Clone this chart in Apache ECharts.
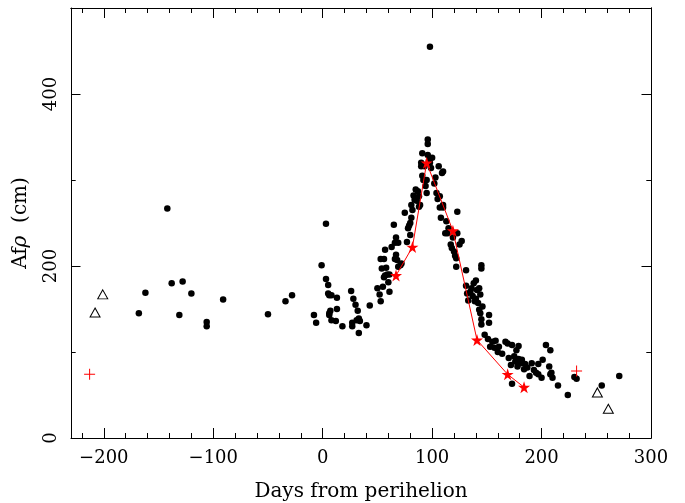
<!DOCTYPE html>
<html><head><meta charset="utf-8">
<script src="https://cdn.jsdelivr.net/npm/echarts@6/dist/echarts.min.js"></script>
<style>html,body{margin:0;padding:0;background:#fff}#c{width:685px;height:503px}</style>
</head><body><div id="c"></div>
<script>
// Black dots: days from perihelion and Afrho (cm)
const dotDays = [-168,-162,-142,-138,-131,-128,-120,-106,-106,-91,-50,-34,-28,
 -8,-6,-1,3,3,5,5,6,8,6,6,7,8,12,13,13,18,26,28,27,27,30,31,32,33,34,33,40,43,
 50,52,53,53,54,55,56,57,56,57,59,61,61,60,65,67,66,67,66,68,69,71,72,69,77,78,79,80,81,80,82,81,83,84,85,87,88,88,89,
 90,91,91,90,93,94,95,95,96,96,96,98,98,99,97,
 103,106,110,109,104,105,107,107,110,110,108,115,114,112,117,118,120,121,119,123,123,125,122,122,
 131,131,132,133,136,137,138,140,141,140,142,143,144,145,145,144,145,145,146,139,143,
 152,152,151,155,158,153,157,161,164,167,169,173,179,170,172,175,176,178,179,181,182,184,185,173,
 189,191,195,197,197,201,200,204,208,207,208,209,210,215,224,230,232,255,271,
 58,63,75,86,92,100,102,113,127,135,148,160,177,187,193];
const dotAfrho = [145,169,267,180,143,182,168,135,130,161,144,159,166,
 143,134,201,249,185,178,168,166,166,143,145,148,137,136,163,150,130,171,162,134,130,155,137,148,139,136,122,131,154,
 174,167,159,208,197,176,187,219,208,189,190,190,170,181,248,233,227,213,208,207,199,201,203,227,228,244,247,250,256,236,265,271,282,277,289,287,281,269,271,
 320,331,305,316,316,293,300,285,329,347,342,455,320,314,322,
 303,316,310,308,285,278,281,268,271,268,256,244,238,238,225,221,217,212,233,238,263,225,209,199,
 195,177,168,160,174,165,180,183,172,162,157,174,167,201,197,145,138,132,153,159,149,
 143,134,115,112,113,106,105,106,98,112,110,108,107,93,85,95,89,83,92,87,91,80,86,63,
 72,87,76,86,74,91,70,108,102,83,74,76,70,61,50,71,69,61,72,
 198,222,262,276,300,326,296,252,229,170,120,100,102,82,79];
// Red stars (connected)
const starDays = [67,82,95,119,141,169,184];
const starAfrho = [189,222,320,241,114,74,59];
// Open triangles
const triDays = [-208,-201,251,261];
const triAfrho = [146,167,53,34];
// Red crosses
const plusDays = [-213,232];
const plusAfrho = [74,78];
// Axis ticks
const xMajor = [-200,-100,0,100,200,300];
const xMinor = [-220,-200,-180,-160,-140,-120,-100,-80,-60,-40,-20,0,20,40,60,80,100,120,140,160,180,200,220,240,260,280,300];
const yMajor = [0,200,400];
const yMinor = [100,300,500];

const zip = (a,b)=>a.map((v,i)=>[v,b[i]]);
const FONT = 'DejaVu Serif';
const STAR = 'path://M0,-1L0.2245,-0.309L0.951,-0.309L0.363,0.118L0.588,0.809L0,0.382L-0.588,0.809L-0.363,0.118L-0.951,-0.309L-0.2245,-0.309Z';
const PLUS = 'path://M-0.09,-1L0.09,-1L0.09,-0.09L1,-0.09L1,0.09L0.09,0.09L0.09,1L-0.09,1L-0.09,0.09L-1,0.09L-1,-0.09L-0.09,-0.09Z';
const fmt = v => v < 0 ? '\u2212' + Math.abs(v) : String(v);
const line = {show:true,onZero:false,lineStyle:{color:'#000',width:1}};
function xa(pos, ticks, len, labels, extra){
  return Object.assign({type:'value',min:-230,max:300,position:pos,
    axisLine:labels?line:{show:pos==='top',onZero:false,lineStyle:{color:'#000',width:1}},
    axisTick:{show:true,inside:true,length:len,customValues:ticks,lineStyle:{color:'#000',width:1}},
    axisLabel:labels?{show:true,customValues:xMajor,formatter:fmt,fontFamily:FONT,fontSize:18,color:'#000',margin:11}:{show:false},
    splitLine:{show:false}}, extra||{});
}
function ya(pos, ticks, len, labels, extra){
  return Object.assign({type:'value',min:0,max:500,position:pos,
    axisLine:labels?line:{show:pos==='right',onZero:false,lineStyle:{color:'#000',width:1}},
    axisTick:{show:true,inside:true,length:len,customValues:ticks,lineStyle:{color:'#000',width:1}},
    axisLabel:labels?{show:true,customValues:yMajor,rotate:90,fontFamily:FONT,fontSize:18,color:'#000',margin:11}:{show:false},
    splitLine:{show:false}}, extra||{});
}
const chart = echarts.init(document.getElementById('c'));
chart.setOption({
  animation:false,
  backgroundColor:'#fff',
  grid:{left:71,right:34,top:8,bottom:65,outerBoundsMode:'none',containLabel:false},
  xAxis:[
    xa('bottom', xMajor, 10, true, {name:'Days from perihelion',nameLocation:'middle',nameGap:44,nameTextStyle:{fontFamily:FONT,fontSize:20,color:'#000'}}),
    xa('bottom', xMinor, 5, false),
    xa('top', xMajor, 10, false),
    xa('top', xMinor, 5, false)
  ],
  yAxis:[
    ya('left', yMajor, 9.5, true, {name:'Af{i|\u03c1}  (cm)',nameLocation:'middle',nameGap:40,nameRotate:90,
      nameTextStyle:{fontFamily:FONT,fontSize:20,color:'#000',rich:{i:{fontFamily:FONT,fontSize:20,fontStyle:'italic',color:'#000'}}}}),
    ya('left', yMinor, 4.7, false),
    ya('right', yMajor, 9.5, false),
    ya('right', yMinor, 4.7, false)
  ],
  series:[
    {type:'scatter',data:zip(dotDays,dotAfrho),symbol:'circle',symbolSize:6.5,itemStyle:{color:'#000',opacity:1},z:2},
    {type:'scatter',data:zip(triDays,triAfrho),symbol:'triangle',symbolSize:[10,9],itemStyle:{color:'rgba(0,0,0,0)',borderColor:'#000',borderWidth:1,opacity:1},z:3},
    {type:'scatter',data:zip(plusDays,plusAfrho),symbol:PLUS,symbolSize:11,itemStyle:{color:'#ff0000',opacity:1},z:3},
    {type:'line',data:zip(starDays,starAfrho),symbol:STAR,symbolSize:12,showAllSymbol:true,lineStyle:{color:'#ff0000',width:1},itemStyle:{color:'#ff0000',borderWidth:0},z:4}
  ]
});
</script></body></html>
